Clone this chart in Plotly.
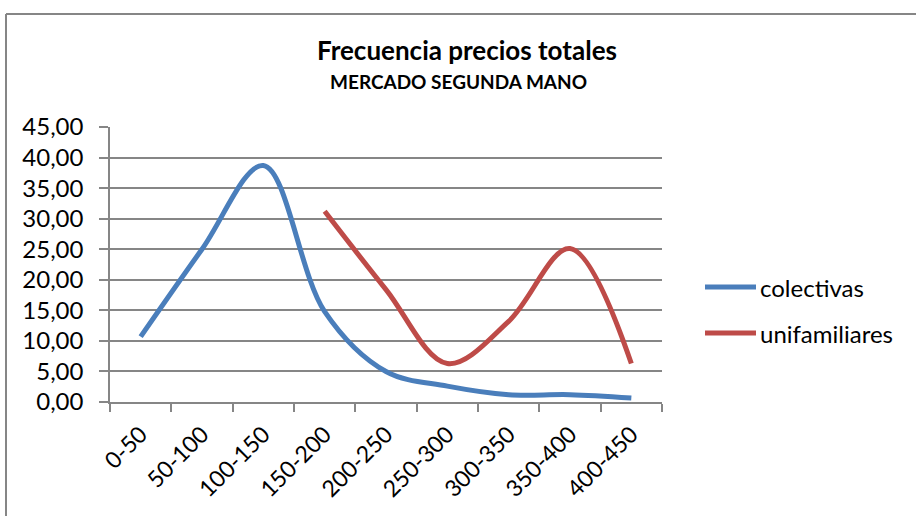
import plotly.graph_objects as go

# Price bands (thousands of euros) and frequency (%) per housing type
categories = ["0-50", "50-100", "100-150", "150-200", "200-250",
              "250-300", "300-350", "350-400", "400-450"]
colectivas = [10.7, 25.0, 38.7, 14.8, 5.0, 2.6, 1.2, 1.2, 0.65]
unifamiliares = [None, None, None, 31.2, 18.4, 6.3, 13.2, 25.1, 6.3]
y_ticks = [0, 5, 10, 15, 20, 25, 30, 35, 40, 45]

series = [("colectivas", colectivas, "#4A7EBB"),
          ("unifamiliares", unifamiliares, "#BE4B48")]

FONT = "Lato, 'Open Sans', sans-serif"
GRID = "#868686"

W, H = 916, 516
L, R, T, B = 110, 662, 127, 402   # plot area in pixels


def px_x(p):
    return (p - L) / (R - L)


def px_y(p):
    return (B - p) / (B - T)


fig = go.Figure()
for name, vals, color in series:
    fig.add_trace(go.Scatter(
        x=categories, y=vals, name=name, mode="lines",
        line=dict(color=color, width=5, shape="spline", smoothing=1.0),
        showlegend=False,
    ))

shapes = [
    # chart frame (left and top edges)
    dict(type="line", xref="paper", yref="paper",
         x0=px_x(6), x1=px_x(W + 5), y0=px_y(14), y1=px_y(14),
         line=dict(color=GRID, width=2)),
    dict(type="line", xref="paper", yref="paper",
         x0=px_x(6), x1=px_x(6), y0=px_y(14), y1=px_y(H + 5),
         line=dict(color=GRID, width=2)),
]
annotations = [
    dict(text="<b>Frecuencia precios totales</b>", xref="paper", yref="paper",
         x=px_x(467), y=px_y(50), showarrow=False,
         font=dict(family=FONT, size=26, color="black"),
         xanchor="center", yanchor="middle"),
    dict(text="<b>MERCADO SEGUNDA MANO</b>", xref="paper", yref="paper",
         x=px_x(458), y=px_y(81), showarrow=False,
         font=dict(family=FONT, size=19, color="black"),
         xanchor="center", yanchor="middle"),
]

# legend drawn as line swatches with labels
legend_y = [287, 333]
for (name, _, color), ly in zip(series, legend_y):
    shapes.append(dict(type="line", xref="paper", yref="paper",
                       x0=px_x(705), x1=px_x(756), y0=px_y(ly), y1=px_y(ly),
                       line=dict(color=color, width=5)))
    annotations.append(dict(text=name, xref="paper", yref="paper",
                            x=px_x(758), y=px_y(ly), showarrow=False,
                            font=dict(family=FONT, size=24, color="black"),
                            xanchor="left", yanchor="middle"))

fig.update_layout(
    width=W, height=H,
    margin=dict(l=L, r=W - R, t=T, b=H - B, pad=0),
    paper_bgcolor="white", plot_bgcolor="white",
    separators=", ",
    font=dict(family=FONT, size=23, color="black"),
    shapes=shapes, annotations=annotations,
    showlegend=False,
)
fig.update_xaxes(
    type="category", range=[-0.5, len(categories) - 0.5],
    tickson="boundaries", ticks="outside", ticklen=8, tickwidth=1.5,
    tickcolor=GRID, showline=True, linecolor=GRID, linewidth=1.5,
    showgrid=False, tickangle=-45, ticklabelstandoff=8,
    tickfont=dict(family=FONT, size=23, color="black"),
)
fig.update_yaxes(
    range=[0, 45], tickvals=y_ticks, tickformat=".2f",
    ticks="outside", ticklen=9, tickwidth=1.5, tickcolor=GRID,
    showline=True, linecolor=GRID, linewidth=1.5,
    showgrid=True, gridcolor=GRID, gridwidth=1.5, zeroline=False,
    ticklabelstandoff=11,
    tickfont=dict(family=FONT, size=24, color="black"),
)

fig.write_html("out.html")
